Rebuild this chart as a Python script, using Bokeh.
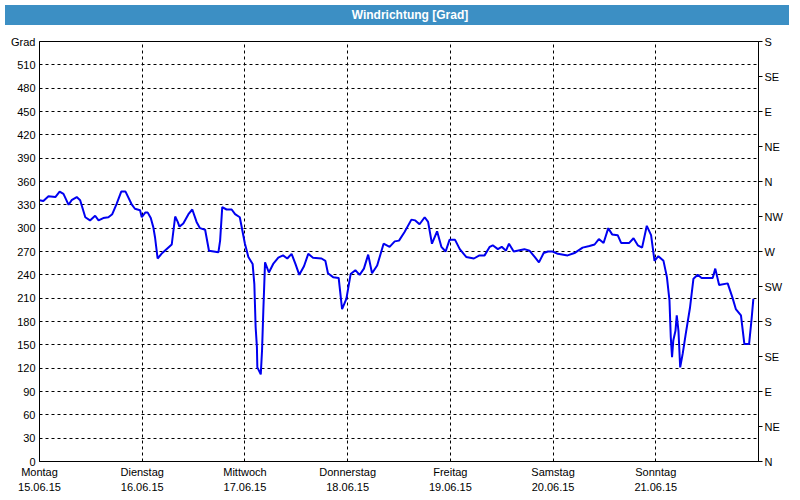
from bokeh.plotting import figure
from bokeh.models import FixedTicker, LinearAxis, Div, Range1d
from bokeh.layouts import column
from bokeh.embed import file_html
from bokeh.resources import INLINE

# ---- data ----
title_text = "Windrichtung [Grad]"
day_names = ["Montag", "Dienstag", "Mittwoch", "Donnerstag", "Freitag", "Samstag", "Sonntag"]
day_dates = ["15.06.15", "16.06.15", "17.06.15", "18.06.15", "19.06.15", "20.06.15", "21.06.15"]
day_hours = [0, 24, 48, 72, 96, 120, 144, 168]
deg_ticks = list(range(0, 541, 30))
compass_ticks = list(range(0, 541, 45))
compass_labels = ["N", "NE", "E", "SE", "S", "SW", "W", "NW", "N", "NE", "E", "SE", "S"]

hours = [0, 0.9, 2.1, 3.7, 4.7, 5.6, 6.8, 7.5, 8.7, 9.5,
         10.7, 11.8, 13.0, 13.8, 14.9, 16.1, 17.0, 18.0, 19.1, 20.1,
         21.5, 22.3, 23.5, 23.9, 24.7, 25.3, 26.0, 26.6, 27.0, 27.6,
         28.5, 30.9, 31.7, 32.3, 32.7, 33.6, 34.8, 35.7, 36.7, 37.5,
         38.7, 39.6, 41.8, 42.2, 42.7, 43.7, 44.9, 45.7, 46.8, 48.0,
         48.8, 49.8, 50.2, 50.5, 50.8, 50.9, 51.7, 52.0, 52.3, 52.7,
         53.6, 54.6, 55.8, 56.9, 57.9, 58.9, 59.8, 60.7, 61.8, 62.8,
         63.9, 65.9, 66.8, 67.4, 68.6, 69.9, 70.7, 71.7, 72.7, 73.8,
         74.8, 75.8, 76.8, 77.7, 78.9, 80.4, 81.8, 83.0, 84.0, 85.3,
         86.9, 87.8, 88.8, 90.0, 90.8, 91.7, 92.9, 93.9, 94.9, 95.8,
         97.1, 98.2, 99.7, 101.5, 102.8, 104.0, 105.2, 105.9, 107.1, 108.0,
         109.0, 109.7, 110.8, 113.3, 114.5, 115.7, 116.7, 117.8, 118.8, 119.9,
         121.1, 123.4, 125.0, 126.9, 128.5, 129.7, 130.7, 131.8, 132.9, 133.8,
         135.1, 135.9, 137.8, 138.8, 139.8, 140.8, 141.9, 142.9, 143.7, 144.6,
         145.8, 146.6, 147.2, 147.5, 147.8, 148.1, 148.6, 148.9, 149.3, 149.7,
         150.3, 151.0, 152.0, 152.8, 153.8, 154.7, 157.3, 157.9, 158.8, 160.8,
         161.9, 162.7, 163.9, 164.7, 165.8, 166.4, 166.8]

direction = [336, 335, 341, 340, 347, 344, 330, 336, 340, 336,
             314, 310, 316, 310, 313, 314, 318, 331, 347, 347,
             331, 325, 323, 314, 320, 320, 313, 301, 288, 261,
             267, 279, 315, 308, 302, 306, 318, 324, 308, 300,
             298, 271, 269, 284, 327, 324, 324, 318, 314, 280,
             263, 254, 228, 173, 147, 121, 112, 143, 194, 256,
             243, 254, 262, 265, 261, 267, 254, 240, 251, 267,
             262, 261, 258, 242, 237, 236, 196, 209, 241, 246,
             240, 248, 266, 242, 252, 280, 276, 283, 284, 295,
             311, 310, 305, 314, 308, 280, 296, 276, 270, 285,
             285, 273, 263, 261, 265, 265, 276, 278, 273, 276,
             271, 280, 270, 273, 271, 263, 256, 268, 270, 270,
             267, 265, 268, 275, 277, 279, 286, 281, 300, 292,
             291, 281, 281, 287, 278, 275, 303, 291, 258, 264,
             258, 237, 207, 160, 134, 156, 168, 188, 168, 121,
             139, 164, 198, 235, 240, 236, 236, 248, 227, 229,
             211, 196, 188, 151, 151, 184, 209]

FONT = "Liberation Sans"
BLUE_BAR = "#3c8fc4"

p = figure(frame_width=719, frame_height=420,
           x_range=Range1d(day_hours[0], day_hours[-1]),
           y_range=Range1d(deg_ticks[0], deg_ticks[-1]),
           output_backend="svg", toolbar_location=None,
           min_border_left=25, min_border_right=24,
           min_border_top=11, min_border_bottom=33,
           background_fill_color="white", border_fill_color="white")
p.margin = (0, 0, 0, 8)

p.outline_line_color = "black"
p.outline_line_width = 1

# grids
p.xgrid.ticker = FixedTicker(ticks=day_hours)
p.ygrid.ticker = FixedTicker(ticks=deg_ticks)
for g in (p.xgrid, p.ygrid):
    g.grid_line_color = "black"
    g.grid_line_dash = "3 3"
    g.grid_line_width = 1
    g.grid_line_alpha = 1.0

# bottom axis
xa = p.xaxis[0]
xa.ticker = FixedTicker(ticks=day_hours)
overrides = {h: f"{n}\n{d}" for h, n, d in zip(day_hours, day_names, day_dates)}
overrides[day_hours[-1]] = ""
xa.major_label_overrides = overrides
xa.major_tick_out = 0
xa.major_tick_in = 0
xa.minor_tick_out = 0
xa.minor_tick_in = 0
xa.major_label_standoff = 4
xa.major_label_text_font = FONT
xa.major_label_text_font_size = "11px"
xa.major_label_text_color = "black"
xa.major_label_text_line_height = 1.3
xa.axis_line_color = "black"

# left axis
ya = p.yaxis[0]
ya.ticker = FixedTicker(ticks=deg_ticks)
ya.major_label_overrides = {deg_ticks[-1]: "Grad"}
ya.major_tick_out = 0
ya.major_tick_in = 0
ya.minor_tick_out = 0
ya.minor_tick_in = 0
ya.major_label_standoff = 4
ya.major_label_text_font = FONT
ya.major_label_text_font_size = "11px"
ya.major_label_text_color = "black"
ya.axis_line_color = "black"

# right compass axis
ra = LinearAxis(ticker=FixedTicker(ticks=compass_ticks))
ra.major_label_overrides = {t: lab for t, lab in zip(compass_ticks, compass_labels)}
ra.major_tick_out = 4
ra.major_tick_in = 0
ra.minor_tick_out = 0
ra.minor_tick_in = 0
ra.major_label_standoff = 2
ra.major_label_text_font = FONT
ra.major_label_text_font_size = "11px"
ra.major_label_text_color = "black"
ra.axis_line_color = "black"
p.add_layout(ra, "right")

p.line(hours, direction, line_color="#0000f0", line_width=2)

header = Div(text=title_text, width=784, height=20,
             styles={"background-color": BLUE_BAR, "color": "white",
                     "font-family": FONT, "font-weight": "bold",
                     "font-size": "12px", "text-align": "center",
                     "text-indent": "26px",
                     "line-height": "20px", "width": "784px"})

layout = column(header, p,
                styles={"outline": f"2px solid {BLUE_BAR}", "outline-offset": "6px"})

open("out.html", "w").write(file_html(layout, INLINE))
